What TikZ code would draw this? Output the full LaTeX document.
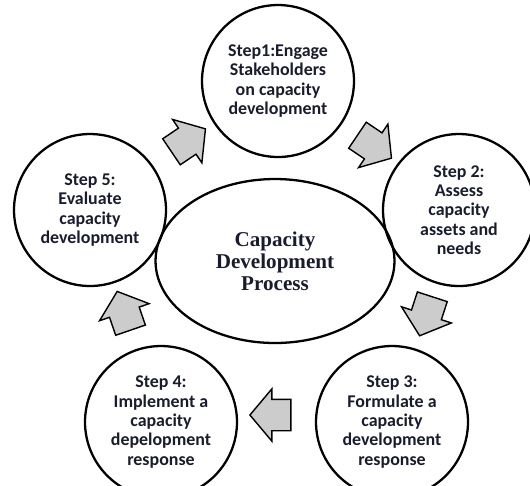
\documentclass[tikz,border=0pt]{standalone}
\usepackage{fontspec}
\setmainfont{Liberation Serif}
\newfontfamily\stepfont{Carlito}
\usetikzlibrary{%
  shapes.geometric,% wg. ellipse
  shapes.arrows,% block arrows
}
\definecolor{stepnavy}{RGB}{24,28,46}

\begin{document}
\begin{tikzpicture}[
  x=0.02cm, y=-0.02cm,
  line width=1.3pt,
  stepcircle/.style={draw, circle, minimum size=3.04cm, inner sep=0pt,
    align=center, text=stepnavy,
    font=\stepfont\bfseries\fontsize{10.2}{11}\selectfont},
  blockarrow/.style={draw, fill=gray!40, line width=0.8pt,
    single arrow, single arrow head extend=0.21cm,
    single arrow tip angle=100,
    inner xsep=0pt, inner ysep=0.3cm, minimum height=0.82cm},
]
\useasboundingbox (0,0) rectangle (530,485);

% the centre
\node[draw, ellipse, minimum width=4.78cm, minimum height=3.28cm,
  inner sep=0pt, align=center, text=stepnavy,
  font=\bfseries\fontsize{12}{12.5}\selectfont]
  (core) at (275,261) {Capacity\\Development\\Process};

% the five steps
\node[stepcircle] (step1) at (278,81)
  {Step1:Engage\\Stakeholders\\on capacity\\development};
\node[stepcircle] (step2) at (459,210)
  {Step 2:\\Assess\\capacity\\assets and\\needs};
\node[stepcircle] (step3) at (392,422)
  {Step 3:\\Formulate a\\capacity\\development\\response};
\node[stepcircle] (step4) at (161,422)
  {Step 4:\\Implement a\\capacity\\depelopment\\response};
\node[stepcircle] (step5) at (90,210)
  {Step 5:\\Evaluate\\capacity\\development};

% block arrows round the cycle
\foreach \nm/\x/\y/\ang in {a51/183/144/34, a12/369/143/-34,
    a23/428/310/-108, a34/277/415/180, a45/126/317/109} {
  \node[blockarrow, rotate=\ang] (\nm) at (\x,\y) {};
}

\end{tikzpicture}
\end{document}
